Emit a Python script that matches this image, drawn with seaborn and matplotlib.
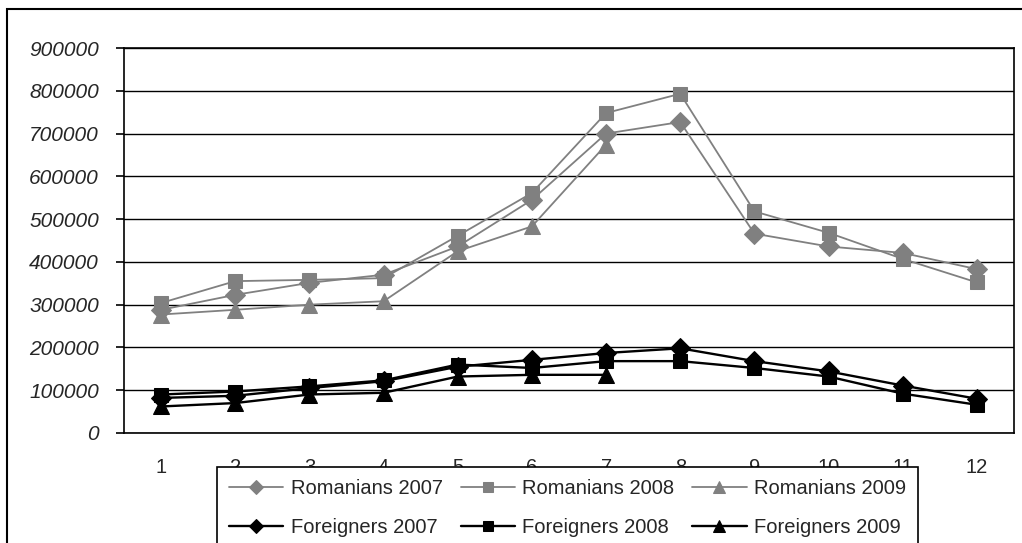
import numpy as np
import matplotlib
matplotlib.use('Agg')
import matplotlib.pyplot as plt
from matplotlib.patches import Rectangle
import pandas as pd
import seaborn as sns

months = [1, 2, 3, 4, 5, 6, 7, 8, 9, 10, 11, 12]

romanians_2007 = [288000, 323000, 351000, 370000, 436000, 545000, 700000, 727000, 466000, 436000, 421000, 383000]
romanians_2008 = [304000, 355000, 358000, 362000, 461000, 561000, 748000, 793000, 518000, 468000, 407000, 352000]
romanians_2009 = [277000, 288000, 300000, 308000, 425000, 483000, 674000, np.nan, np.nan, np.nan, np.nan, np.nan]
foreigners_2007 = [82000, 87000, 105000, 121000, 155000, 171000, 187000, 198000, 168000, 144000, 111000, 80000]
foreigners_2008 = [90000, 97000, 109000, 123000, 160000, 152000, 168000, 168000, 152000, 132000, 92000, 66000]
foreigners_2009 = [62000, 70000, 90000, 94000, 132000, 136000, 136000, np.nan, np.nan, np.nan, np.nan, np.nan]

y_ticks = [0, 100000, 200000, 300000, 400000, 500000, 600000, 700000, 800000, 900000]

sns.set_style('white')
plt.rcParams['font.family'] = ['Liberation Sans', 'DejaVu Sans']

GRAY = '#808080'
series = [
    ('Romanians 2007', romanians_2007, GRAY, 'D', 1.3, 10),
    ('Romanians 2008', romanians_2008, GRAY, 's', 1.3, 10.5),
    ('Romanians 2009', romanians_2009, GRAY, '^', 1.3, 11.5),
    ('Foreigners 2007', foreigners_2007, 'black', 'D', 1.7, 10),
    ('Foreigners 2008', foreigners_2008, 'black', 's', 1.7, 10.5),
    ('Foreigners 2009', foreigners_2009, 'black', '^', 1.7, 11.5),
]

fig = plt.figure(figsize=(10.22, 5.43), dpi=100)
ax = fig.add_axes([124 / 1022, 1 - 433 / 543, (1014 - 124) / 1022, (433 - 48) / 543])

handles = {}
for name, vals, col, mk, lw, ms in series:
    df = pd.DataFrame({'month': months, 'value': vals}).dropna()
    sns.lineplot(data=df, x='month', y='value', ax=ax, color=col, marker=mk,
                 markersize=ms, markeredgecolor=col, markerfacecolor=col,
                 linewidth=lw, estimator=None, sort=False, label=name)
    handles[name] = ax.get_lines()[-1]

ax.get_legend().remove()

ax.set_xlim(0.5, 12.5)
ax.set_ylim(0, 900000)
ax.set_xticks(months)
ax.set_xticklabels([str(m) for m in months], fontsize=14.5)
ax.set_xticks(np.arange(0.5, 13, 1), minor=True)
ax.tick_params(axis='x', which='major', length=0, pad=18)
ax.tick_params(axis='x', which='minor', length=6, width=1.2, direction='out', color='black')
ax.set_yticks(y_ticks)
ax.set_yticklabels([str(v) for v in y_ticks], fontsize=15, style='italic')
ax.tick_params(axis='y', length=6, width=1.2, direction='out', color='black', pad=12, left=True)
ax.set_xlabel('')
ax.set_ylabel('')
ax.grid(axis='y', color='black', linewidth=1.0)
ax.set_axisbelow(True)
for s in ax.spines.values():
    s.set_visible(True)
    s.set_color('black')
    s.set_linewidth(1.2)

# outer chart frame
fig.patches.append(Rectangle((7 / 1022, -0.5), 2, 0.5 + (1 - 9 / 543),
                             transform=fig.transFigure, fill=False,
                             edgecolor='black', linewidth=1.5))

order = ['Romanians 2007', 'Foreigners 2007', 'Romanians 2008', 'Foreigners 2008',
         'Romanians 2009', 'Foreigners 2009']
leg = fig.legend([handles[n] for n in order], order, ncol=3, loc='upper left',
                 bbox_to_anchor=(217 / 1022, 1 - 467 / 543), borderaxespad=0,
                 fontsize=14.5, frameon=True, fancybox=False, framealpha=1,
                 edgecolor='black', markerscale=0.75, handlelength=2.7,
                 handletextpad=0.35, columnspacing=0.9, labelspacing=1.0,
                 borderpad=0.6)
leg.get_frame().set_linewidth(1.2)

fig.savefig('out.png', dpi=100)
